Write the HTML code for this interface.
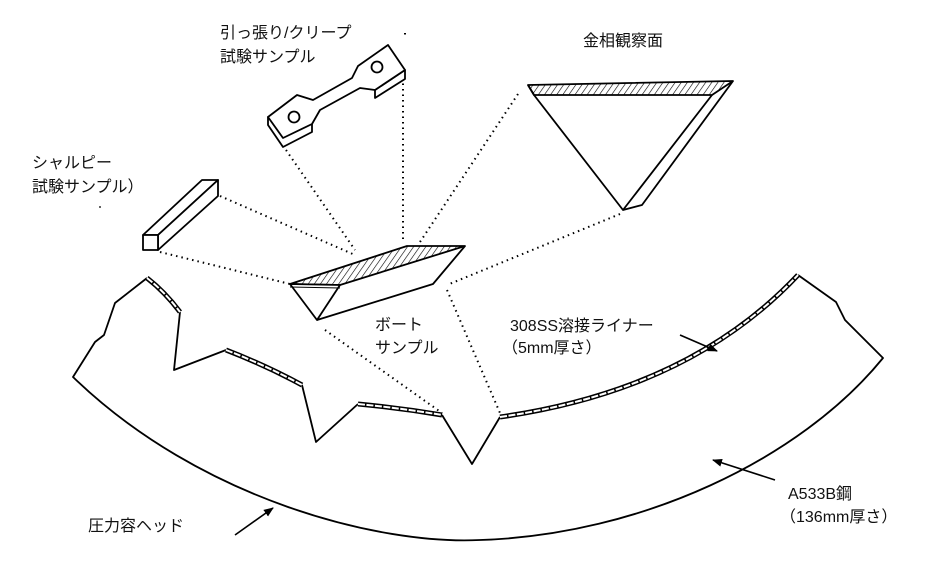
<!DOCTYPE html>
<html><head><meta charset="utf-8"><style>
html,body{margin:0;padding:0;background:#fff;}
svg{display:block;}
text{font-family:"Liberation Sans","Noto Sans CJK JP",sans-serif;font-size:16px;fill:#111;}
</style></head><body>
<svg width="938" height="570" viewBox="0 0 938 570" xmlns="http://www.w3.org/2000/svg">
<defs>
<pattern id="h" width="5" height="5" patternUnits="userSpaceOnUse" patternTransform="rotate(35)">
<rect width="5" height="5" fill="#fff"/><line x1="0" y1="0" x2="0" y2="5" stroke="#000" stroke-width="1.2"/>
</pattern>
<marker id="a" markerWidth="10" markerHeight="8" refX="9" refY="4" orient="auto" markerUnits="userSpaceOnUse">
<path d="M0,0 L10,4 L0,8 Z" fill="#000"/></marker>
</defs>
<g fill="none" stroke="#000" stroke-width="1.8" stroke-linejoin="round">
<path d="M147,278 L115,303 L104,335 L95,342 L73,377 C200,500 380,545 480,540 C640,535 800,460 883,358 L845,320 L836,302 L798,275"/>
<path d="M180,312 L174,370 L226,350 M302,385 L316,442 L358,404 M442,415 L472,464 L500,417"/>
<g stroke-width="5">
<path d="M147,278 Q165,292 180,312"/>
<path d="M226,350 Q265,365 302,385"/>
<path d="M358,404 Q400,408 442,415"/>
<path d="M500,417 Q690,390 798,275"/>
</g>
<g stroke="#fff" stroke-width="2" stroke-dasharray="7,1.5">
<path d="M147,278 Q165,292 180,312"/>
<path d="M226,350 Q265,365 302,385"/>
<path d="M358,404 Q400,408 442,415"/>
<path d="M500,417 Q690,390 798,275"/>
</g>
</g>
<g stroke="#000" stroke-width="2" stroke-dasharray="1.5,4" fill="none">
<line x1="220" y1="196" x2="355" y2="255"/>
<line x1="160" y1="252" x2="290" y2="284"/>
<line x1="286" y1="150" x2="355" y2="250"/>
<line x1="403" y1="78" x2="403" y2="240"/>
<line x1="518" y1="94" x2="418" y2="245"/>
<line x1="620" y1="214" x2="447" y2="285"/>
<line x1="325" y1="330" x2="442" y2="413"/>
<line x1="447" y1="290" x2="500" y2="413"/>
<line x1="405" y1="33" x2="405" y2="36"/>
</g>
<g stroke="#000" stroke-width="1.8" stroke-linejoin="round">
<polygon points="290,284 407,246 465,246 340,285" fill="url(#h)"/>
<polygon points="290,284 340,285 317,320" fill="#fff"/>
<path d="M317,320 L433,284 L465,246" fill="none"/>
<line x1="290" y1="287" x2="340" y2="288" stroke-width="1"/>
</g>
<g stroke="#000" stroke-width="1.8" stroke-linejoin="round">
<polygon points="528,85 733,81 712,95 534,95" fill="url(#h)"/>
<path d="M534,95 L623,210 L712,95 M733,81 L642,205 L623,210 M528,85 L534,95" fill="none"/>
</g>
<g stroke="#000" stroke-width="1.8" stroke-linejoin="round" fill="#fff">
<path d="M268,117 L268,125 L283,147 L312,132 L312,124 Z"/>
<path d="M375,90 L375,98 L405,79 L405,70 Z"/>
<path d="M268,117 L297,95 L313,100 L352,78 L358,66 L388,45 L405,70 L375,90 L360,88 L320,110 L312,124 L283,138 Z"/>
<circle cx="294" cy="117" r="5.5"/>
<circle cx="377" cy="67" r="5.5"/>
</g>
<g stroke="#000" stroke-width="1.8" stroke-linejoin="round" fill="#fff">
<polygon points="143,235 202,180 218,180 158,235"/>
<polygon points="158,235 218,180 218,196 158,250"/>
<rect x="143" y="235" width="15" height="15"/>
</g>
<g stroke="#000" stroke-width="1.6">
<line x1="680" y1="335" x2="717" y2="351" marker-end="url(#a)"/>
<line x1="235" y1="535" x2="273" y2="508" marker-end="url(#a)"/>
<line x1="775" y1="480" x2="713" y2="460" marker-end="url(#a)"/>
</g>
<circle cx="100" cy="207" r="1" fill="#333"/>
<text x="220" y="38">引っ張り/クリープ</text>
<text x="220" y="62">試験サンプル</text>
<text x="583" y="46">金相観察面</text>
<text x="32" y="168">シャルピー</text>
<text x="32" y="192">試験サンプル）</text>
<text x="375" y="330">ボート</text>
<text x="375" y="353">サンプル</text>
<text x="510" y="331">308SS溶接ライナー</text>
<text x="502" y="353">（5mm厚さ）</text>
<text x="788" y="499">A533B鋼</text>
<text x="780" y="522">（136mm厚さ）</text>
<text x="88" y="531">圧力容ヘッド</text>
</svg>
</body></html>
